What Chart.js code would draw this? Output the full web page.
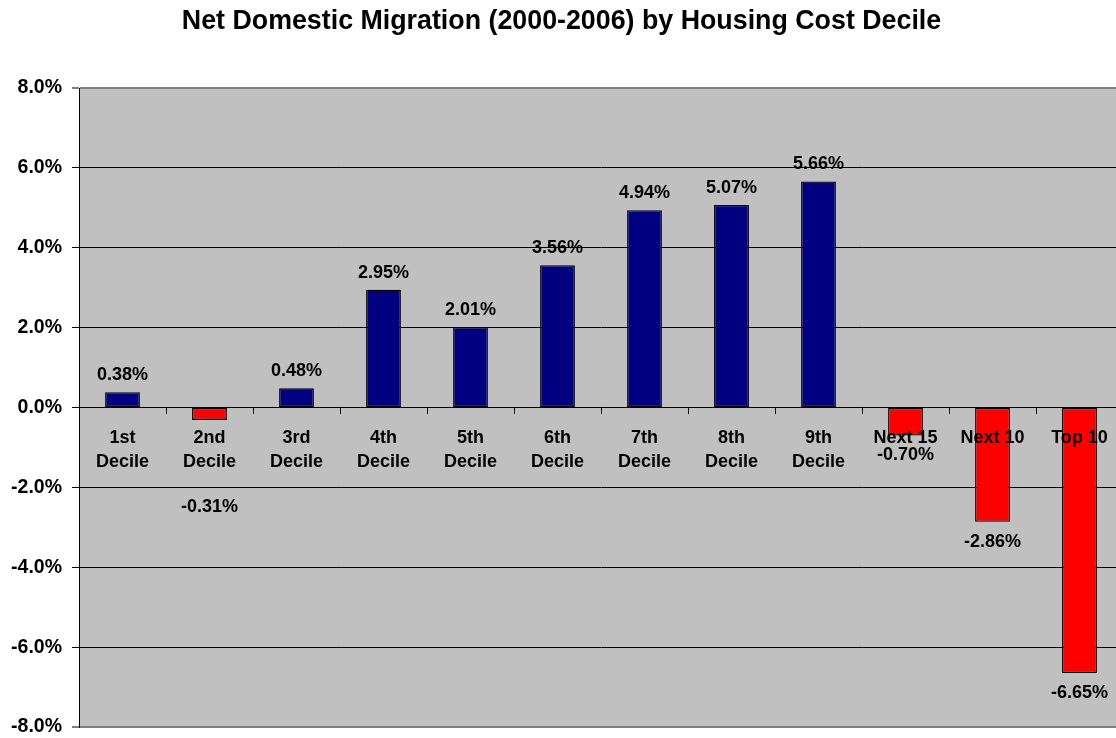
<!DOCTYPE html>
<html>
<head>
<meta charset="utf-8">
<title>Net Domestic Migration by Housing Cost Decile</title>
<script src="https://cdn.jsdelivr.net/npm/chart.js@4.4.1/dist/chart.umd.min.js"></script>
<style>
  html,body{margin:0;padding:0;background:#fff;overflow:hidden;}
  #wrap{width:1123px;height:738px;}
</style>
</head>
<body>
<div id="wrap"><canvas id="chart" width="1123" height="738"></canvas></div>
<script>
// datos
const categories = [
  ['1st','Decile'], ['2nd','Decile'], ['3rd','Decile'], ['4th','Decile'], ['5th','Decile'],
  ['6th','Decile'], ['7th','Decile'], ['8th','Decile'], ['9th','Decile'],
  'Next 15', 'Next 10', 'Top 10'
];
const netMigration = [0.38, -0.31, 0.48, 2.95, 2.01, 3.56, 4.94, 5.07, 5.66, -0.70, -2.86, -6.65];
const yTicks = [-8, -6, -4, -2, 0, 2, 4, 6, 8];

const NAVY = '#000080', RED = '#FF0000', PLOT_BG = '#C0C0C0';
const FONT = 'Arial, "Liberation Sans", sans-serif';

// fondo gris del area de trazado
const plotBg = {
  id:'plotBg',
  beforeDraw(chart){
    const {ctx, chartArea:a} = chart;
    ctx.save();
    ctx.fillStyle = PLOT_BG;
    ctx.fillRect(a.left, a.top, a.right-a.left, a.bottom-a.top);
    ctx.restore();
  }
};

// etiquetas de valor encima / debajo de cada barra
const valueLabels = {
  id:'valueLabels',
  afterDatasetsDraw(chart){
    const {ctx} = chart;
    const y = chart.scales.y;
    const zero = y.getPixelForValue(0);
    const meta = chart.getDatasetMeta(0);
    ctx.save();
    ctx.font = 'bold 18px ' + FONT;
    ctx.fillStyle = '#000';
    ctx.textAlign = 'center';
    ctx.textBaseline = 'alphabetic';
    meta.data.forEach((bar,i)=>{
      const v = netMigration[i];
      const txt = v.toFixed(2) + '%';
      let ty;
      if(v >= 0) ty = bar.y - 12;
      else {
        ty = bar.y + 25;
        // si la categoria tiene dos lineas, bajar la etiqueta debajo de ellas
        if(Array.isArray(categories[i])) ty = Math.max(ty, zero + 104);
      }
      ctx.fillText(txt, bar.x, ty);
    });
    ctx.restore();
  }
};

new Chart(document.getElementById('chart'), {
  type:'bar',
  data:{
    labels:categories,
    datasets:[{
      data:netMigration,
      backgroundColor:netMigration.map(v=>v<0?RED:NAVY),
      borderColor:'#000',
      borderWidth:1.3,
      borderSkipped:false,
      barPercentage:0.4,
      categoryPercentage:1
    }]
  },
  options:{
    responsive:false,
    animation:false,
    devicePixelRatio:1,
    layout:{padding:{left:0,right:0,top:0,bottom:11}},
    plugins:{
      legend:{display:false},
      tooltip:{enabled:false},
      title:{
        display:true,
        text:'Net Domestic Migration (2000-2006) by Housing Cost Decile',
        color:'#000',
        font:{family:FONT,size:26.8,weight:'bold',lineHeight:1.2},
        padding:{top:5.5,bottom:50.34}
      }
    },
    scales:{
      x:{
        position:{y:0},
        offset:true,
        grid:{display:true,drawOnChartArea:false,offset:true,tickLength:6,color:'#000',lineWidth:1},
        border:{display:true,color:'#000',width:1},
        ticks:{
          z:1,
          autoSkip:false,maxRotation:0,minRotation:0,padding:13,color:'#000',
          font:{family:FONT,size:18,weight:'bold',lineHeight:1.32}
        }
      },
      y:{
        min:-8,max:8,
        afterFit(scale){ scale.width = 79; scale.paddingTop = 0; scale.paddingBottom = 0; },
        afterBuildTicks(scale){ scale.ticks = yTicks.map(v=>({value:v})); },
        grid:{
          color:c=>(Math.abs(c.tick.value)===8?'#808080':'#000'),
          lineWidth:c=>(Math.abs(c.tick.value)===8?2:1),
          tickColor:'#000',tickWidth:1,tickLength:7
        },
        border:{display:true,color:'#000',width:1},
        ticks:{
          padding:10,color:'#000',
          font:{family:FONT,size:19.5,weight:'bold',lineHeight:1},
          callback:v=>v.toFixed(1)+'%'
        }
      }
    }
  },
  plugins:[plotBg,valueLabels]
});
</script>
</body>
</html>
